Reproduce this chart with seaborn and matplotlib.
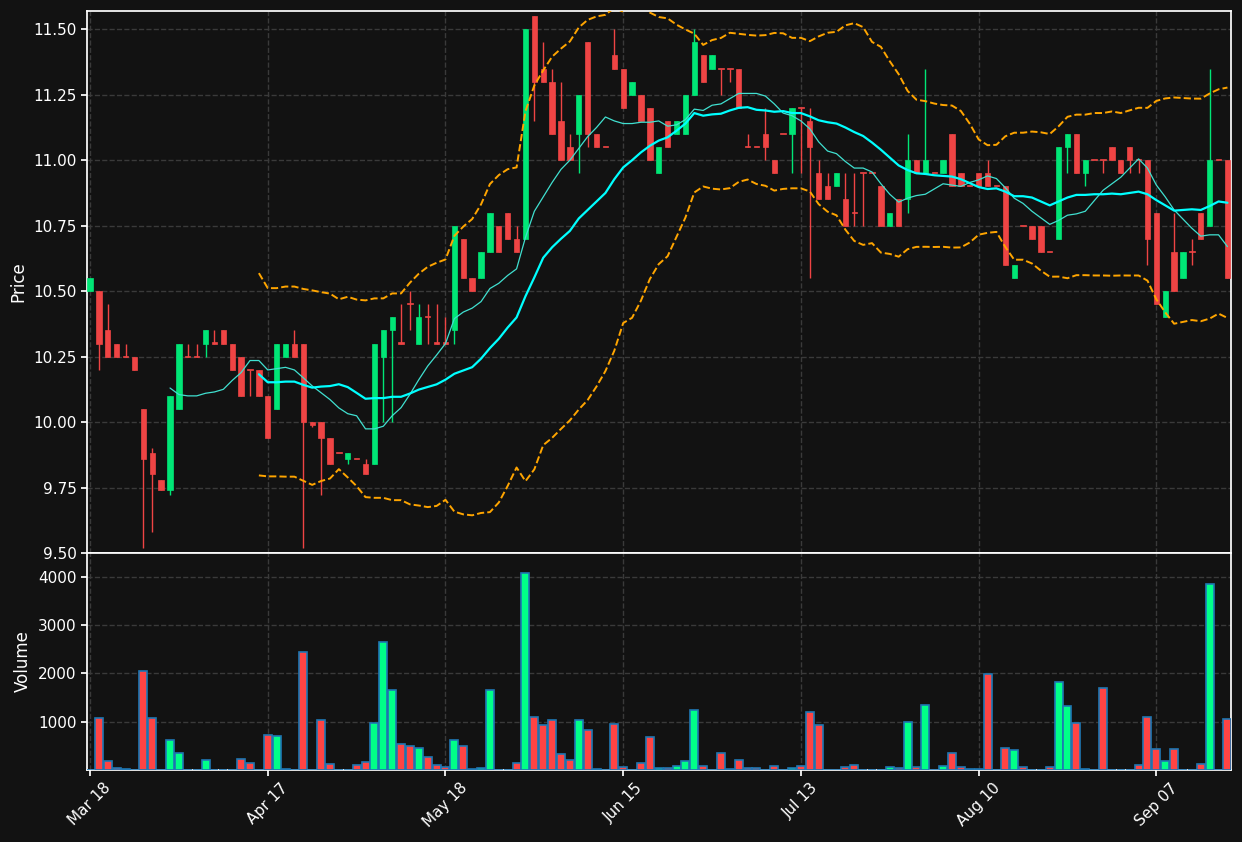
import numpy as np
import pandas as pd
import matplotlib
matplotlib.use('Agg')
import matplotlib.pyplot as plt
import seaborn as sns

# OHLCV (bar index 0..128)
opens = [10.50, 10.50, 10.35, 10.30, 10.25, 10.25, 10.05, 9.88, 9.78, 9.74,
         10.05, 10.25, 10.25, 10.30, 10.30, 10.35, 10.30, 10.25, 10.20, 10.20,
         10.10, 10.05, 10.25, 10.30, 10.30, 10.00, 10.00, 9.94, 9.88, 9.86,
         9.86, 9.84, 9.84, 10.25, 10.35, 10.30, 10.45, 10.30, 10.40, 10.30,
         10.30, 10.35, 10.70, 10.55, 10.55, 10.65, 10.75, 10.80, 10.70, 10.70,
         11.55, 11.35, 11.30, 11.15, 11.05, 11.10, 11.45, 11.10, 11.05, 11.40,
         11.35, 11.25, 11.25, 11.20, 10.95, 11.15, 11.10, 11.10, 11.25, 11.40,
         11.35, 11.35, 11.35, 11.35, 11.05, 11.05, 11.10, 11.00, 11.10, 11.10,
         11.20, 11.15, 10.95, 10.90, 10.90, 10.85, 10.80, 10.95, 10.95, 10.90,
         10.75, 10.85, 10.85, 11.00, 10.95, 10.95, 10.95, 11.10, 10.95, 10.90,
         10.95, 10.95, 10.90, 10.90, 10.55, 10.75, 10.75, 10.75, 10.65, 10.70,
         11.05, 11.10, 10.95, 11.00, 11.00, 11.05, 11.00, 11.05, 11.00, 11.00,
         10.80, 10.40, 10.65, 10.55, 10.65, 10.80, 10.75, 11.00, 11.00]
closes = [10.55, 10.30, 10.25, 10.25, 10.25, 10.20, 9.86, 9.80, 9.74, 10.10,
          10.30, 10.25, 10.25, 10.35, 10.30, 10.30, 10.20, 10.10, 10.20, 10.10,
          9.94, 10.30, 10.30, 10.25, 10.00, 9.99, 9.94, 9.84, 9.88, 9.88,
          9.86, 9.80, 10.30, 10.35, 10.40, 10.30, 10.45, 10.40, 10.40, 10.30,
          10.30, 10.75, 10.55, 10.50, 10.65, 10.80, 10.65, 10.70, 10.65, 11.50,
          11.30, 11.30, 11.10, 11.00, 11.00, 11.25, 11.10, 11.05, 11.05, 11.35,
          11.20, 11.30, 11.15, 11.00, 11.05, 11.05, 11.15, 11.25, 11.45, 11.30,
          11.40, 11.35, 11.35, 11.20, 11.05, 11.05, 11.05, 10.95, 11.10, 11.20,
          11.20, 11.05, 10.85, 10.85, 10.95, 10.75, 10.80, 10.95, 10.95, 10.75,
          10.80, 10.75, 11.00, 10.95, 11.00, 10.95, 11.00, 10.90, 10.90, 10.90,
          10.90, 10.90, 10.90, 10.60, 10.60, 10.75, 10.70, 10.65, 10.65, 11.05,
          11.10, 10.95, 11.00, 11.00, 11.00, 11.00, 10.95, 11.00, 11.00, 10.70,
          10.45, 10.50, 10.50, 10.65, 10.65, 10.70, 11.00, 11.00, 10.55]
highs = [10.55, 10.50, 10.45, 10.30, 10.30, 10.25, 10.05, 9.90, 9.78, 10.10,
         10.30, 10.30, 10.30, 10.35, 10.35, 10.35, 10.30, 10.25, 10.20, 10.20,
         10.10, 10.30, 10.30, 10.35, 10.30, 10.00, 10.00, 9.94, 9.88, 9.88,
         9.86, 9.86, 10.30, 10.35, 10.40, 10.45, 10.50, 10.45, 10.45, 10.45,
         10.40, 10.75, 10.70, 10.55, 10.65, 10.80, 10.75, 10.80, 10.75, 11.50,
         11.55, 11.45, 11.35, 11.30, 11.10, 11.25, 11.45, 11.10, 11.05, 11.50,
         11.35, 11.30, 11.25, 11.20, 11.05, 11.15, 11.15, 11.25, 11.50, 11.40,
         11.40, 11.35, 11.35, 11.35, 11.10, 11.05, 11.20, 11.00, 11.10, 11.20,
         11.20, 11.20, 11.00, 10.95, 10.95, 10.95, 10.95, 10.95, 10.95, 10.90,
         10.80, 10.85, 11.10, 11.00, 11.35, 10.95, 11.00, 11.10, 10.95, 10.90,
         10.95, 11.00, 10.90, 10.90, 10.60, 10.75, 10.75, 10.75, 10.65, 11.05,
         11.10, 11.10, 11.00, 11.00, 11.00, 11.05, 11.00, 11.05, 11.00, 11.00,
         10.80, 10.50, 10.80, 10.65, 10.70, 10.80, 11.35, 11.00, 11.00]
lows = [10.50, 10.20, 10.25, 10.25, 10.25, 10.20, 9.52, 9.58, 9.74, 9.72,
        10.05, 10.25, 10.25, 10.25, 10.30, 10.30, 10.20, 10.10, 10.10, 10.10,
        9.94, 10.05, 10.25, 10.25, 9.52, 9.98, 9.72, 9.84, 9.88, 9.84,
        9.86, 9.80, 9.84, 10.00, 10.00, 10.30, 10.35, 10.30, 10.30, 10.30,
        10.30, 10.30, 10.55, 10.50, 10.55, 10.65, 10.65, 10.70, 10.65, 10.70,
        11.15, 11.30, 11.10, 11.00, 11.00, 10.95, 11.05, 11.05, 11.05, 11.35,
        11.20, 11.25, 11.15, 11.00, 10.95, 11.05, 11.10, 11.10, 11.25, 11.30,
        11.35, 11.25, 11.30, 11.20, 11.05, 11.05, 11.00, 10.95, 11.10, 10.95,
        10.95, 10.55, 10.85, 10.85, 10.90, 10.75, 10.75, 10.75, 10.95, 10.75,
        10.75, 10.75, 10.80, 10.95, 10.95, 10.95, 10.95, 10.90, 10.90, 10.90,
        10.90, 10.90, 10.90, 10.60, 10.55, 10.75, 10.70, 10.65, 10.65, 10.70,
        10.95, 10.95, 10.90, 11.00, 10.95, 11.00, 10.95, 10.95, 10.95, 10.60,
        10.45, 10.40, 10.50, 10.55, 10.60, 10.70, 10.75, 11.00, 10.55]
volumes = [0, 1080, 180, 50, 30, 0, 2060, 1080, 10, 620,
           350, 0, 10, 200, 10, 10, 0, 220, 140, 5,
           720, 700, 30, 5, 2440, 0, 1040, 120, 5, 5,
           100, 160, 970, 2660, 1650, 540, 500, 460, 260, 100,
           60, 620, 490, 20, 50, 1650, 0, 0, 140, 4090,
           1100, 940, 1040, 330, 200, 1040, 830, 30, 0, 950,
           70, 0, 150, 690, 50, 40, 90, 180, 1250, 90,
           0, 350, 30, 200, 40, 40, 0, 90, 0, 40,
           90, 1200, 940, 5, 0, 60, 110, 0, 0, 0,
           70, 40, 990, 70, 1350, 0, 90, 360, 70, 20,
           20, 1980, 0, 450, 410, 70, 0, 5, 70, 1820,
           1330, 980, 20, 0, 1690, 0, 0, 0, 110, 1100,
           430, 180, 430, 0, 0, 120, 3860, 0, 1060]
tick_labels = ['Mar 18', 'Apr 17', 'May 18', 'Jun 15', 'Jul 13', 'Aug 10', 'Sep 07']

BG = '#121212'
UP = '#00E676'
DOWN = '#EF4444'
VOL_UP = '#00FF88'
VOL_DOWN = '#FF4444'

df = pd.DataFrame({'open': opens, 'high': highs, 'low': lows,
                   'close': closes, 'volume': volumes})
df['idx'] = np.arange(len(df))
df['up'] = df['close'] > df['open']
df['ma10'] = df['close'].rolling(10).mean()
df['ma20'] = df['close'].rolling(20).mean()
std20 = df['close'].rolling(20).std()
df['bb_up'] = df['ma20'] + 2 * std20
df['bb_lo'] = df['ma20'] - 2 * std20

sns.set_theme(style='dark', rc={
    'axes.facecolor': BG, 'figure.facecolor': BG,
    'axes.edgecolor': 'white', 'text.color': 'white',
    'axes.labelcolor': 'white', 'xtick.color': 'white', 'ytick.color': 'white',
    'grid.color': '#3a3a3a', 'grid.linestyle': '--',
})
plt.rcParams['font.family'] = ['DejaVu Sans']

fig = plt.figure(figsize=(12.42, 8.42), dpi=100)
gs = fig.add_gridspec(2, 1, height_ratios=[542, 217], hspace=0,
                      left=0.07, right=0.9915, top=0.987, bottom=0.0855)
ax = fig.add_subplot(gs[0])
axv = fig.add_subplot(gs[1], sharex=ax)

# candles
colors = np.where(df['up'], UP, DOWN)
ax.vlines(df['idx'], df['low'], df['high'], colors=colors, linewidth=1, zorder=2)
body_lo = np.minimum(df['open'], df['close'])
body_h = np.maximum((df['close'] - df['open']).abs(), 0.004)
ax.bar(df['idx'], body_h, bottom=body_lo, width=0.6, color=colors,
       edgecolor=colors, linewidth=0.5, zorder=3)

sns.lineplot(data=df, x='idx', y='ma10', ax=ax, color='#40E0D0', linewidth=0.9, zorder=4)
sns.lineplot(data=df, x='idx', y='ma20', ax=ax, color='#00FFFF', linewidth=1.6, zorder=4)
sns.lineplot(data=df, x='idx', y='bb_up', ax=ax, color='orange', linewidth=1.4,
             linestyle='--', zorder=4)
sns.lineplot(data=df, x='idx', y='bb_lo', ax=ax, color='orange', linewidth=1.4,
             linestyle='--', zorder=4)

ax.set_ylim(9.5, 11.57)
ax.set_yticks(np.arange(9.5, 11.51, 0.25))
ax.set_yticklabels([f'{v:.2f}' for v in np.arange(9.5, 11.51, 0.25)])
ax.set_ylabel('Price')
ax.set_xlabel('')
ax.grid(True, linestyle='--', color='#3a3a3a')
ax.tick_params(axis='x', labelbottom=False)
ax.tick_params(axis='both', labelsize=11, left=True, length=4)

# volume
axv.bar(df['idx'], df['volume'], width=0.9,
        color=np.where(df['up'], VOL_UP, VOL_DOWN),
        edgecolor='#1f77b4', linewidth=1.2, zorder=3)
axv.set_ylim(0, 4497)
axv.set_yticks([1000, 2000, 3000, 4000])
axv.set_ylabel('Volume')
axv.grid(True, linestyle='--', color='#3a3a3a')
axv.tick_params(axis='both', labelsize=11, left=True, bottom=True, length=4)

ticks = np.arange(0, len(df), 20)
axv.set_xticks(ticks)
axv.set_xticklabels(tick_labels, rotation=45)
axv.set_xlim(-0.35, len(df) - 0.55)
axv.set_xlabel('')

for a in (ax, axv):
    for s in a.spines.values():
        s.set_color('white')

fig.savefig('out.png', dpi=100, facecolor=BG)
